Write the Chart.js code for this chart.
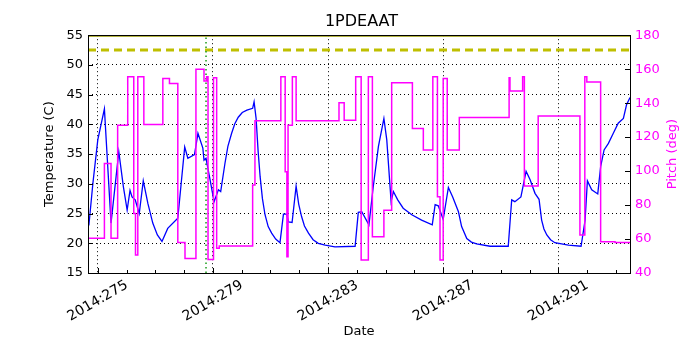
<!DOCTYPE html>
<html>
<head>
<meta charset="utf-8">
<script src="https://cdn.jsdelivr.net/npm/chart.js@4"></script>
<style>
  body { margin: 0; background: #fff; }
</style>
</head>
<body>
<canvas id="chart" width="700" height="350"></canvas>
<script>
// temperature (blue, left axis), x in day-of-year 2014
const tempDays = [274.69, 274.83, 275.00, 275.23, 275.46, 275.73, 275.89, 276.02, 276.12, 276.19, 276.30, 276.44, 276.58, 276.74, 276.91, 277.07, 277.23, 277.43, 277.78, 278.02, 278.13, 278.36, 278.48, 278.65, 278.69, 278.76, 278.90, 279.04, 279.19, 279.27, 279.42, 279.52, 279.65, 279.76, 279.88, 280.02, 280.18, 280.38, 280.43, 280.50, 280.57, 280.64, 280.72, 280.81, 280.92, 281.04, 281.18, 281.33, 281.45, 281.56, 281.63, 281.75, 281.89, 281.98, 282.08, 282.18, 282.32, 282.48, 282.66, 282.90, 283.24, 283.94, 284.05, 284.17, 284.42, 284.57, 284.75, 284.94, 285.04, 285.19, 285.27, 285.42, 285.61, 285.91, 286.25, 286.62, 286.72, 286.83, 287.00, 287.18, 287.33, 287.53, 287.64, 287.82, 287.98, 288.16, 288.63, 289.26, 289.38, 289.49, 289.70, 289.88, 290.02, 290.19, 290.33, 290.42, 290.50, 290.60, 290.73, 290.88, 291.35, 291.79, 291.93, 292.01, 292.16, 292.37, 292.47, 292.59, 292.74, 292.91, 293.08, 293.26, 293.37, 293.49];
const tempValues = [23.0, 30.1, 37.4, 42.6, 23.4, 35.4, 29.5, 25.6, 28.9, 27.8, 27.3, 25.0, 30.5, 26.7, 23.4, 21.4, 20.3, 22.5, 24.2, 36.2, 34.3, 34.9, 38.5, 36.0, 34.0, 34.3, 30.7, 27.0, 29.0, 28.7, 33.5, 36.3, 38.5, 40.1, 41.2, 42.0, 42.4, 42.7, 43.8, 41.0, 35.5, 31.2, 27.5, 24.8, 22.8, 21.7, 20.7, 20.1, 24.9, 24.9, 23.6, 23.5, 29.6, 26.6, 24.5, 22.9, 21.7, 20.6, 20.0, 19.7, 19.4, 19.5, 25.2, 25.3, 23.1, 29.5, 36.3, 41.0, 37.4, 27.0, 28.7, 27.3, 25.9, 24.8, 23.9, 23.1, 26.5, 26.3, 24.0, 29.4, 27.8, 25.3, 22.8, 20.8, 20.2, 19.9, 19.5, 19.5, 27.3, 27.0, 27.8, 32.1, 30.7, 28.4, 27.4, 23.9, 22.4, 21.4, 20.6, 20.1, 19.7, 19.5, 23.9, 30.5, 29.0, 28.3, 32.9, 35.7, 36.8, 38.5, 40.2, 41.0, 43.3, 44.5];

// pitch (magenta, right axis): day where each new value starts
const pitchDays = [274.66, 275.23, 275.46, 275.69, 276.04, 276.25, 276.31, 276.39, 276.60, 277.26, 277.49, 277.78, 278.03, 278.41, 278.69, 278.78, 278.83, 279.02, 279.13, 279.22, 280.38, 280.46, 281.36, 281.51, 281.57, 281.61, 281.76, 281.89, 283.38, 283.56, 283.96, 284.15, 284.40, 284.54, 284.94, 285.21, 285.93, 286.31, 286.64, 286.80, 286.89, 287.00, 287.14, 287.56, 289.29, 289.32, 289.76, 289.82, 290.30, 291.75, 291.92, 291.99, 292.47, 292.97, 293.49];
const pitchValues = [60.5, 104.5, 60.5, 127, 155.5, 75, 50.6, 155.5, 127.5, 154.5, 151.6, 58, 48.6, 160, 153, 155.5, 48, 155, 54.5, 55.9, 91.8, 129.6, 155.5, 99.6, 49.6, 127, 155.5, 129.6, 140.2, 130, 155.5, 47.6, 155.5, 61.4, 77, 152, 125, 112.4, 155.5, 84.9, 47.6, 154.5, 112.4, 131.6, 155, 147.2, 155.5, 91.2, 132.4, 62.4, 155.5, 152.5, 58.4, 58, 58];

const xRange = [274.66, 293.49];
const tempRange = [15, 55];
const pitchRange = [40, 180];
const majorDays = [275, 279, 283, 287, 291];
const limitTop = 55;
const limitDashed = 52.5;
const markerDay = 278.76;

const toPoints = (xs, ys) => xs.map((x, i) => ({ x, y: ys[i] }));
const isMajor = v => majorDays.includes(v);

// frame, inward tick marks, centred rotated date labels, right axis title
const framePlugin = {
  id: "frame",
  afterDraw(chart) {
    const { ctx, chartArea: a, scales } = chart;
    ctx.save();
    ctx.strokeStyle = "#000";
    ctx.lineWidth = 1;
    ctx.beginPath();
    scales.x.ticks.forEach(t => {
      const px = Math.round(scales.x.getPixelForValue(t.value)) + 0.5;
      const len = isMajor(t.value) ? 5 : 3;
      ctx.moveTo(px, a.bottom); ctx.lineTo(px, a.bottom - len);
    });
    scales.y.ticks.forEach(t => {
      const py = Math.round(scales.y.getPixelForValue(t.value)) + 0.5;
      ctx.moveTo(a.left, py); ctx.lineTo(a.left + 5, py);
    });
    scales.y2.ticks.forEach(t => {
      const py = Math.round(scales.y2.getPixelForValue(t.value)) + 0.5;
      ctx.moveTo(a.right, py); ctx.lineTo(a.right - 5, py);
    });
    ctx.stroke();
    ctx.strokeRect(Math.round(a.left) + 0.5, Math.round(a.top) + 0.5,
      Math.round(a.right - a.left), Math.round(a.bottom - a.top));

    ctx.font = "14px 'DejaVu Sans', sans-serif";
    ctx.fillStyle = "#000";
    ctx.textAlign = "center";
    ctx.textBaseline = "middle";
    majorDays.forEach(d => {
      ctx.save();
      ctx.translate(scales.x.getPixelForValue(d), a.bottom + 28);
      ctx.rotate(-Math.PI / 6);
      ctx.fillText("2014:" + d, 0, 0);
      ctx.restore();
    });

    ctx.font = "13px 'DejaVu Sans', sans-serif";
    ctx.save();
    ctx.fillStyle = "#ff00ff";
    ctx.translate(673, (a.top + a.bottom) / 2);
    ctx.rotate(-Math.PI / 2);
    ctx.fillText("Pitch (deg)", 0, 0);
    ctx.restore();
    ctx.restore();
  }
};

Chart.defaults.font.family = "'DejaVu Sans', sans-serif";
Chart.defaults.font.size = 13;
Chart.defaults.color = "#000";

new Chart(document.getElementById("chart"), {
  type: "line",
  data: {
    datasets: [
      {
        label: "Pitch",
        data: toPoints(pitchDays, pitchValues),
        yAxisID: "y2",
        borderColor: "#ff00ff",
        borderWidth: 1.5,
        stepped: "before",
        pointRadius: 0
      },
      {
        label: "Temperature",
        data: toPoints(tempDays, tempValues),
        yAxisID: "y",
        borderColor: "#0000ff",
        borderWidth: 1.3,
        pointRadius: 0
      },
      {
        label: "marker",
        data: [{ x: markerDay, y: tempRange[0] }, { x: markerDay, y: tempRange[1] }],
        yAxisID: "y",
        borderColor: "#1a9a1a",
        borderWidth: 1.5,
        borderDash: [1.5, 3],
        pointRadius: 0
      },
      {
        label: "limit",
        data: [{ x: xRange[0], y: limitDashed }, { x: xRange[1], y: limitDashed }],
        yAxisID: "y",
        borderColor: "#bfbf00",
        borderWidth: 3,
        borderDash: [8, 5],
        pointRadius: 0
      },
      {
        label: "top",
        data: [{ x: xRange[0], y: limitTop }, { x: xRange[1], y: limitTop }],
        yAxisID: "y",
        borderColor: "#9a9a00",
        borderWidth: 3,
        pointRadius: 0
      }
    ]
  },
  options: {
    responsive: false,
    animation: false,
    layout: { padding: { left: 38, right: 15, top: 0, bottom: 7 } },
    plugins: {
      legend: { display: false },
      tooltip: { enabled: false },
      title: {
        display: true,
        text: "1PDEAAT",
        color: "#000",
        font: { size: 16, weight: "normal" },
        padding: { top: 12, bottom: 4 }
      }
    },
    scales: {
      x: {
        type: "linear",
        min: xRange[0],
        max: xRange[1],
        afterBuildTicks: s => {
          const t = [];
          for (let d = 275; d <= 293; d++) t.push({ value: d });
          s.ticks = t;
        },
        afterFit: s => { s.height = 70; },
        ticks: { autoSkip: false, maxRotation: 0, callback: () => "" },
        grid: {
          drawTicks: false,
          color: c => c.tick && isMajor(c.tick.value) ? "#000" : "rgba(0,0,0,0)",
          lineWidth: 1
        },
        border: { display: false, dash: [1, 3] },
        title: { display: true, text: "Date", padding: { top: 2, bottom: 4 } }
      },
      y: {
        position: "left",
        min: tempRange[0],
        max: tempRange[1],
        afterFit: s => { s.width = 50; },
        ticks: { stepSize: 5, padding: 5 },
        grid: { drawTicks: false, color: "#000", lineWidth: 1 },
        border: { display: false, dash: [1, 3] },
        title: { display: true, text: "Temperature (C)" }
      },
      y2: {
        position: "right",
        min: pitchRange[0],
        max: pitchRange[1],
        afterFit: s => { s.width = 55; },
        ticks: { stepSize: 20, padding: 5, color: "#ff00ff" },
        grid: { drawOnChartArea: false, drawTicks: false },
        border: { display: false }
      }
    }
  },
  plugins: [framePlugin]
});
</script>
</body>
</html>
